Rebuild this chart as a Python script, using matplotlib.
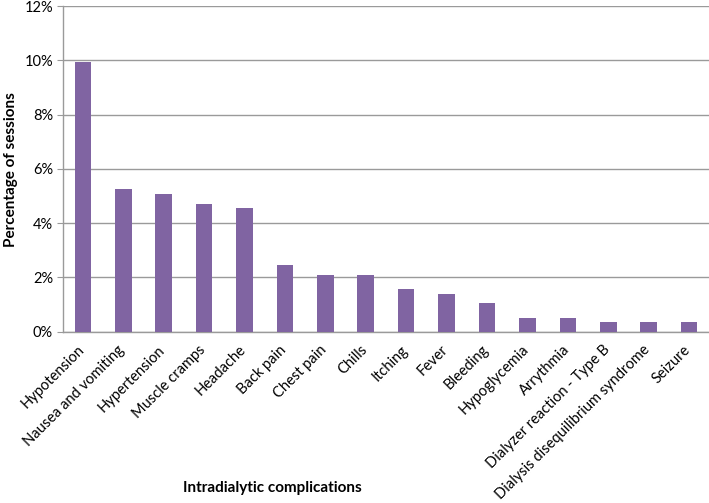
import matplotlib.pyplot as plt
from matplotlib.ticker import FuncFormatter
import matplotlib.transforms as mtransforms

complications = [
    "Hypotension", "Nausea and vomiting", "Hypertension", "Muscle cramps",
    "Headache", "Back pain", "Chest pain", "Chills", "Itching", "Fever",
    "Bleeding", "Hypoglycemia", "Arrythmia", "Dialyzer reaction - Type B",
    "Dialysis disequilibrium syndrome", "Seizure",
]
percent_sessions = [9.95, 5.24, 5.06, 4.71, 4.55, 2.44, 2.09, 2.09,
                    1.57, 1.40, 1.05, 0.52, 0.52, 0.35, 0.35, 0.35]

plt.rcParams['font.family'] = ['Lato', 'DejaVu Sans']

fig = plt.figure(figsize=(7.09, 5.03), dpi=100)
ax = fig.add_axes([0.0884, 0.3406, 0.912, 0.6474])

x = range(len(complications))
ax.bar(x, percent_sessions, width=0.41, color='#8064A2', zorder=3)

ax.set_xlim(-0.5, len(complications) - 0.5)
ax.set_ylim(0, 12)
ax.set_yticks(range(0, 13, 2))
ax.yaxis.set_major_formatter(FuncFormatter(lambda v, p: f"{int(v)}%"))
ax.grid(axis='y', color='#9A9A9A', linewidth=1.0, zorder=0)

for s in ['top', 'right']:
    ax.spines[s].set_visible(False)
for s in ['left', 'bottom']:
    ax.spines[s].set_color('#9A9A9A')
    ax.spines[s].set_linewidth(1.0)

ax.tick_params(axis='y', length=4, color='#9A9A9A', labelsize=10.5, pad=3)
ax.tick_params(axis='x', length=0, labelsize=10.5, pad=2)

ax.set_xticks(list(x))
ax.set_xticklabels(complications, rotation=45, ha='right', va='center',
                   rotation_mode='anchor')
# shift labels so their ends sit just below-left of each bar
offset = mtransforms.ScaledTranslation(-0.5 / 72, -9.5 / 72, fig.dpi_scale_trans)
for lbl in ax.get_xticklabels():
    lbl.set_transform(lbl.get_transform() + offset)

fig.text(0.384, 0.03, "Intradialytic complications", ha='center', va='center',
         fontsize=11, fontweight='bold')
fig.text(0.015, 0.662, "Percentage of sessions", ha='center', va='center',
         rotation=90, fontsize=11, fontweight='bold')

fig.savefig("out.png", dpi=100)
